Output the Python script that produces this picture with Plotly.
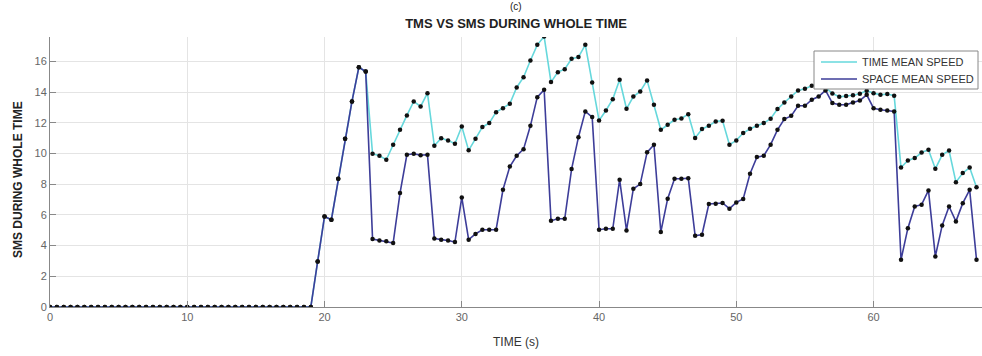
import plotly.graph_objects as go

# Sampling instants (s), every 0.5 s from 0 to 67.5
time_s = [i * 0.5 for i in range(136)]

# Idle period before the first vehicles arrive (0 .. 19 s)
idle = [0.0] * 39

# Space mean speed from 19.5 s onward
sms_active = [
    2.97, 5.90, 5.69, 8.36, 10.97, 13.40, 15.63, 15.35,
    4.43, 4.34, 4.28, 4.17, 7.43, 9.92, 9.99, 9.90, 9.92,
    4.47, 4.39, 4.34, 4.23, 7.14, 4.39, 4.76, 5.04, 5.04, 5.04,
    7.64, 9.16, 9.86, 10.29, 11.81, 13.68, 14.16,
    5.62, 5.75, 5.75, 8.99, 11.07, 12.75, 12.38,
    5.04, 5.10, 5.10, 8.30, 4.99, 7.71, 8.01, 10.08, 10.58,
    4.89, 7.06, 8.36, 8.36, 8.40, 4.65, 4.71, 6.71, 6.73, 6.78, 6.41,
    6.82, 7.04, 8.69, 9.77, 9.86, 10.58, 11.55, 12.25, 12.46, 13.12,
    13.12, 13.51, 13.72, 14.12, 13.29, 13.18, 13.18, 13.33, 13.46, 13.83,
    12.96, 12.86, 12.81, 12.75,
    3.08, 5.14, 6.55, 6.67, 7.60, 3.30, 5.32, 6.55, 5.58, 6.77, 7.64, 3.08,
]

# Time mean speed from 19.5 s onward
tms_active = [
    2.97, 5.90, 5.69, 8.36, 10.97, 13.40, 15.63, 15.35,
    9.99, 9.86, 9.60, 10.58, 11.55, 12.49, 13.40, 13.07, 13.94,
    10.51, 11.00, 10.86, 10.64, 11.77, 10.21, 10.97, 11.73, 11.99, 12.70,
    12.96, 13.25, 14.31, 14.98, 16.07, 17.09, 17.63,
    14.66, 15.31, 15.50, 16.18, 16.29, 17.09, 14.64,
    12.16, 12.81, 13.55, 14.81, 12.92, 13.72, 14.05, 14.77, 13.18,
    11.55, 11.88, 12.20, 12.29, 12.57, 11.01, 11.60, 11.81, 12.10, 12.14, 10.58,
    10.86, 11.34, 11.62, 11.81, 11.99, 12.27, 12.90, 13.33, 13.72, 14.12,
    14.22, 14.42, 14.45, 14.30, 13.92, 13.70, 13.75, 13.80, 13.90, 14.10,
    13.94, 13.83, 13.88, 13.77,
    9.09, 9.55, 9.71, 10.07, 10.25, 9.01, 9.92, 10.20, 8.14, 8.73, 9.09, 7.80,
]

sms = idle + sms_active
tms = idle + tms_active

y_ticks = [0, 2, 4, 6, 8, 10, 12, 14, 16]
x_ticks = [0, 10, 20, 30, 40, 50, 60]

series_names = ["TIME MEAN SPEED", "SPACE MEAN SPEED"]
TMS_COLOR = "#66d8dc"
SMS_COLOR = "#3d3d99"
FONT = "Liberation Sans, Arial, sans-serif"

W, H = 982, 356
M_L, M_R, M_T, M_B = 50, 0, 37, 49
PW, PH = W - M_L - M_R, H - M_T - M_B


def px_x(px):
    """Figure pixel column -> paper x."""
    return (px - M_L) / PW


def px_y(py):
    """Figure pixel row -> paper y."""
    return (H - M_B - py) / PH


fig = go.Figure()
fig.add_trace(go.Scatter(x=time_s, y=tms, mode="lines", name=series_names[0], showlegend=False,
                         line=dict(color=TMS_COLOR, width=1.6)))
fig.add_trace(go.Scatter(x=time_s, y=sms, mode="lines", name=series_names[1], showlegend=False,
                         line=dict(color=SMS_COLOR, width=1.6)))
for series in (tms, sms):
    fig.add_trace(go.Scatter(x=time_s, y=series, mode="markers", showlegend=False,
                             marker=dict(color="#111111", size=4.5)))

fig.update_layout(
    width=W, height=H,
    margin=dict(l=M_L, r=M_R, t=M_T, b=M_B),
    paper_bgcolor="white", plot_bgcolor="white",
    font=dict(family=FONT, color="#555555", size=11),
    title=dict(text="<b>TMS VS SMS DURING WHOLE TIME</b>", x=0.5255, xanchor="center",
               y=1 - 23 / H, yanchor="middle",
               font=dict(family=FONT, size=13, color="#222222")),
    showlegend=False,
)

# Panel tag above the title
fig.add_annotation(text="(c)", xref="paper", yref="paper", x=px_x(516), y=px_y(-1),
                   showarrow=False, yanchor="top", xanchor="center",
                   font=dict(family=FONT, size=10, color="#222222"))

# Y-axis title
fig.add_annotation(text="<b>SMS DURING WHOLE TIME</b>", xref="paper", yref="paper",
                   x=px_x(18), y=px_y(180), textangle=-90, showarrow=False,
                   xanchor="center", yanchor="middle",
                   font=dict(family=FONT, size=12, color="#222222"))

# Legend box with line samples
fig.add_shape(type="rect", xref="paper", yref="paper",
              x0=px_x(814), x1=px_x(978), y0=px_y(89), y1=px_y(51),
              line=dict(color="#888888", width=1), fillcolor="white", layer="above")
for name, color, row in zip(series_names, (TMS_COLOR, SMS_COLOR), (62, 79)):
    fig.add_shape(type="line", xref="paper", yref="paper",
                  x0=px_x(821), x1=px_x(857), y0=px_y(row), y1=px_y(row),
                  line=dict(color=color, width=1.6), layer="above")
    fig.add_annotation(text=name, xref="paper", yref="paper", x=px_x(860), y=px_y(row),
                       xanchor="left", yanchor="middle", showarrow=False,
                       font=dict(family=FONT, size=11, color="#333333"))

fig.update_xaxes(
    range=[0, 67.9], tickvals=x_ticks, ticks="inside", ticklen=6, tickcolor="#888888",
    showgrid=True, gridcolor="#e4e4e4", gridwidth=1,
    showline=True, linecolor="#888888", linewidth=1, zeroline=False,
    title=dict(text="TIME (s)", font=dict(family=FONT, size=12, color="#333333"), standoff=15),
    tickfont=dict(family=FONT, size=11, color="#666666"),
)
fig.update_yaxes(
    range=[0, 17.6], tickvals=y_ticks, ticks="inside", ticklen=6, tickcolor="#888888",
    showgrid=True, gridcolor="#e4e4e4", gridwidth=1,
    showline=True, linecolor="#888888", linewidth=1, zeroline=False,
    tickfont=dict(family=FONT, size=11, color="#666666"),
)

fig.write_html("out.html")
